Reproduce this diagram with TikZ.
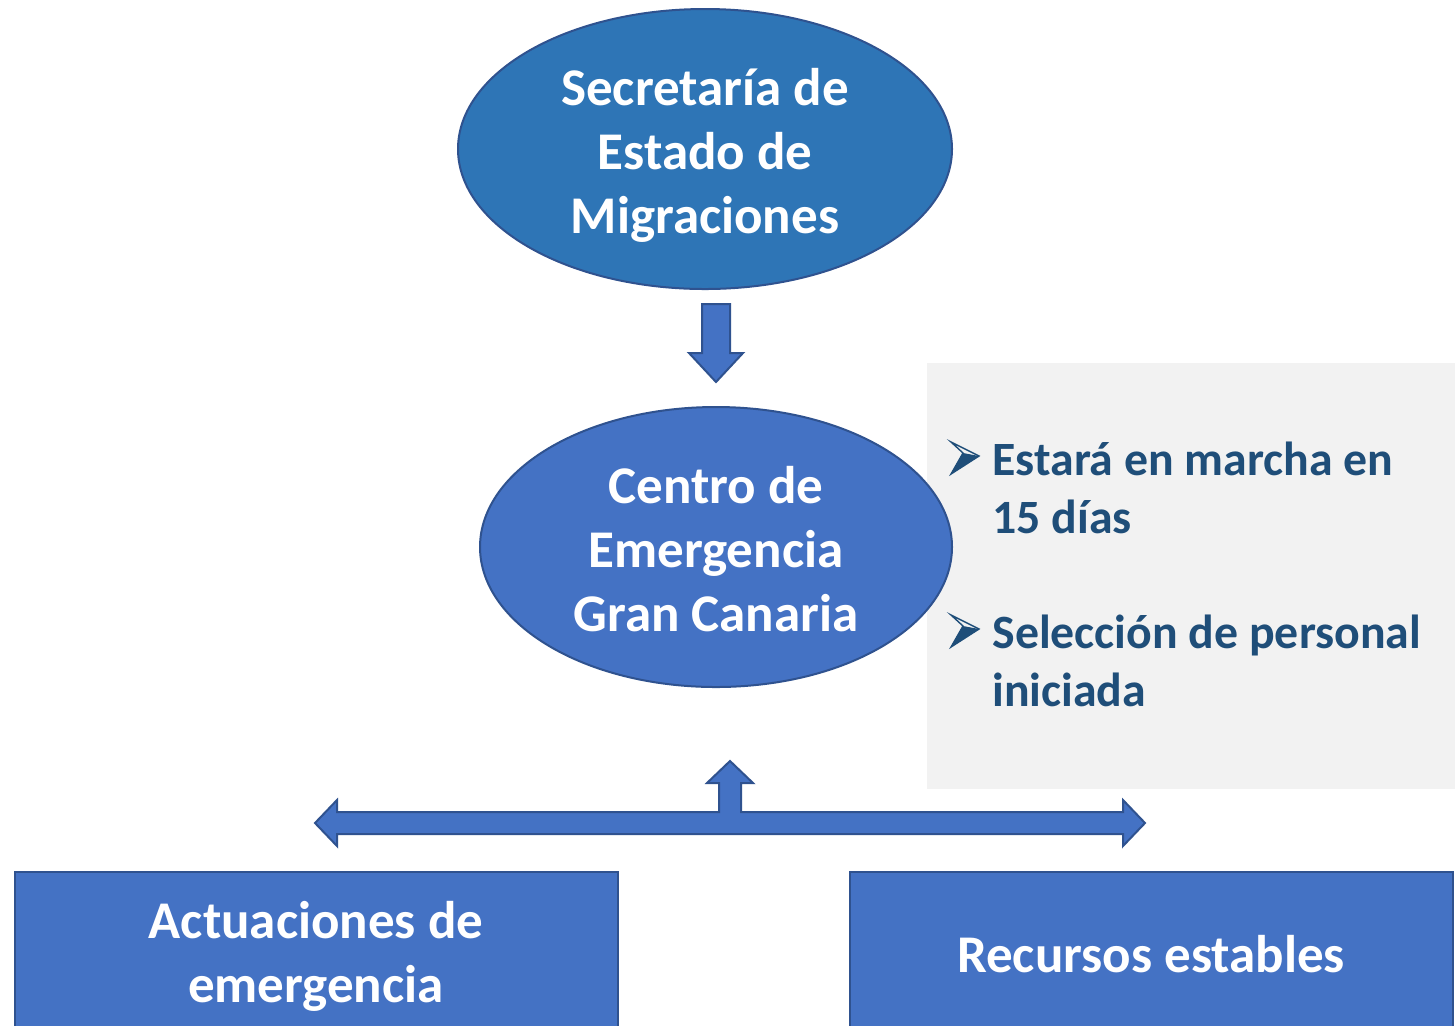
\documentclass[tikz,border=0pt]{standalone}
\usepackage{fontspec}
\setmainfont{Carlito}
\usetikzlibrary{shapes.geometric}
\definecolor{blueA}{HTML}{4472C4}
\definecolor{blueB}{HTML}{2E75B6}
\definecolor{edgeblue}{HTML}{2F528F}
\definecolor{panelgray}{HTML}{F2F2F2}
\definecolor{navy}{HTML}{1F4E79}
\begin{document}
\begin{tikzpicture}[x=0.5pt,y=-0.5pt,
  shapeline/.style={draw=edgeblue, line width=1pt, line join=miter},
  bigtext/.style={font=\bfseries\fontsize{26.5}{32}\selectfont, text=white, align=center, inner sep=0},
  notetext/.style={font=\bfseries\fontsize{23.9}{29}\selectfont, text=navy, anchor=base west, inner sep=0},
  bul/.pic={
    \path[draw=navy, line width=0.7pt, line join=miter] (0,-14) -- (28,0) -- (0,18) -- (12,-3) -- cycle;
    \fill[navy] (12,-3) -- (28,0) -- (0,18) -- cycle;
  }]
\clip (0,0) rectangle (1455,1025);
\fill[white] (0,0) rectangle (1455,1025);

% grey panel
\node[fill=panelgray, minimum width=264pt, minimum height=213pt, anchor=north west, inner sep=0] (panel) at (927,363) {};

% top ellipse
\node[ellipse, shapeline, fill=blueB, minimum width=247pt, minimum height=140pt, inner sep=0] (sec) at (705,149) {};
\node[bigtext] (sectext) at (705,155) {Secretaría de\\Estado de\\Migraciones};

% down block arrow
\path[shapeline, fill=blueA] (702,304) -- (730,304) -- (730,353) -- (743,353) -- (716,382) -- (689,353) -- (702,353) -- cycle;

% centre ellipse
\node[ellipse, shapeline, fill=blueA, minimum width=236pt, minimum height=140pt, inner sep=0] (cen) at (716,547) {};
\node[bigtext] (centext) at (716,549) {Centro de\\Emergencia\\Gran Canaria};

% bullets
\pic at (951,456) {bul};
\node[notetext] (n1a) at (992,475) {Estará en marcha en};
\node[notetext] (n1b) at (992,533) {15 días};
\pic at (951,629) {bul};
\node[notetext] (n2a) at (992,648) {Selección de personal};
\node[notetext] (n2b) at (992,706) {iniciada};

% T block arrow
\path[shapeline, fill=blueA] (315,823) -- (337,800) -- (337,812) -- (719,812) -- (719,783) -- (707,783) -- (730,761) -- (753,783) -- (741,783) -- (741,812) -- (1123,812) -- (1123,800) -- (1145,823) -- (1123,846) -- (1123,834) -- (337,834) -- (337,846) -- cycle;

% bottom boxes
\node[shapeline, fill=blueA, minimum width=301.5pt, minimum height=90pt, anchor=north west, inner sep=0] (act) at (14,871) {};
\node[bigtext] (acttext) at (316,956) {Actuaciones de\\emergencia};
\node[shapeline, fill=blueA, minimum width=301.5pt, minimum height=90pt, anchor=north west, inner sep=0] (rec) at (849,871) {};
\node[bigtext] (rectext) at (1151,954) {Recursos estables};
\end{tikzpicture}
\end{document}
